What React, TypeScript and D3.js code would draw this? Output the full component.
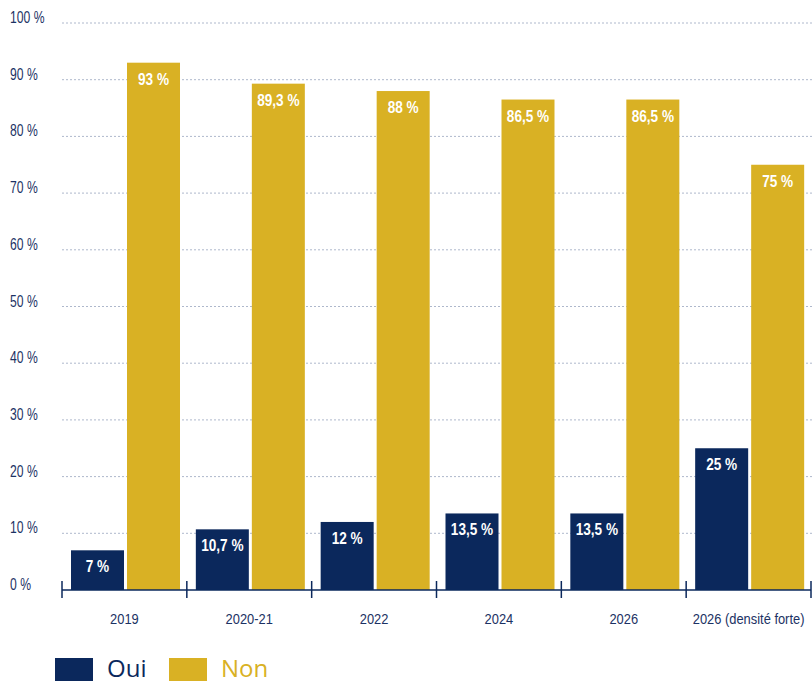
import React from "react";
import * as d3 from "d3";

const categories = ["2019", "2020-21", "2022", "2024", "2026", "2026 (densité forte)"];
const ouiValues = [7, 10.7, 12, 13.5, 13.5, 25];
const nonValues = [93, 89.3, 88, 86.5, 86.5, 75];
const yTicks = [0, 10, 20, 30, 40, 50, 60, 70, 80, 90, 100];
const seriesNames = ["Oui", "Non"];

const NAVY = "#0b285c";
const GOLD = "#d9b124";
const TEXT = "#1c3264";
const FONT = "'Liberation Sans', Arial, sans-serif";

const fmt = (v: number) => String(v).replace(".", ",") + " %";

function CText(props: {
  x: number;
  y: number;
  sx?: number;
  anchor?: string;
  size: number;
  bold?: boolean;
  fill: string;
  children: React.ReactNode;
}) {
  const { x, y, sx = 0.85, anchor = "start", size, bold, fill, children } = props;
  return (
    <g transform={`translate(${x},${y}) scale(${sx},1)`}>
      <text
        x={0}
        y={0}
        textAnchor={anchor}
        fontFamily={FONT}
        fontSize={size}
        fontWeight={bold ? "bold" : "normal"}
        fill={fill}
      >
        {children}
      </text>
    </g>
  );
}

export default function App() {
  const W = 812, H = 684;
  const x0 = 62, x1 = 811;
  const y = d3.scaleLinear().domain([0, 100]).range([590, 23]);
  const x = d3.scaleBand<string>().domain(categories).range([x0, x1]).padding(0);
  const bw = x.bandwidth();
  const barW = 53;
  const inner = d3.scaleBand<string>().domain(seriesNames).range([9, 9 + 2 * barW + 3]).paddingInner(3 / 56);
  const colors = [NAVY, GOLD];
  const series = [ouiValues, nonValues];

  return (
    <svg width={W} height={H} style={{ display: "block", position: "absolute", left: 0, top: 0 }}>
      <rect width={W} height={H} fill="#fff" />
      {yTicks.map((t) => (
        <g key={t}>
          {t > 0 && (
            <line x1={x0} x2={W} y1={y(t)} y2={y(t)} stroke="#aeb8cc" strokeWidth={1} strokeDasharray="2,2" />
          )}
          <CText x={10} y={y(t)} size={16} sx={0.76} fill={TEXT}>
            {t} %
          </CText>
        </g>
      ))}
      {categories.map((c, i) => (
        <g key={c} transform={`translate(${x(c)},0)`}>
          {series.map((vals, s) => {
            const v = vals[i];
            const bx = inner(seriesNames[s])!;
            const w = inner.bandwidth();
            return (
              <g key={s}>
                <rect x={bx} y={y(v)} width={w} height={y(0) - y(v)} fill={colors[s]} />
                <CText x={bx + w / 2} y={y(v) + 22} anchor="middle" size={16} bold sx={0.85} fill="#fff">
                  {fmt(v)}
                </CText>
              </g>
            );
          })}
          <CText x={bw / 2} y={624} anchor="middle" size={15} sx={0.86} fill={TEXT}>
            {c}
          </CText>
        </g>
      ))}
      <line x1={x0} x2={x1} y1={590} y2={590} stroke={NAVY} strokeWidth={1.5} />
      {[...categories.map((c) => x(c)!), x1].map((tx, i) => (
        <line key={i} x1={tx} x2={tx} y1={581} y2={598} stroke={NAVY} strokeWidth={1.5} />
      ))}
      {seriesNames.map((n, i) => {
        const lx = [55, 169][i];
        return (
          <g key={n}>
            <rect x={lx} y={658} width={38} height={23} fill={colors[i]} />
            <text x={lx + 52} y={677} fontFamily="'Open Sans', 'Noto Sans', sans-serif" fontSize={24} fill={colors[i]}>
              {n}
            </text>
          </g>
        );
      })}
    </svg>
  );
}
